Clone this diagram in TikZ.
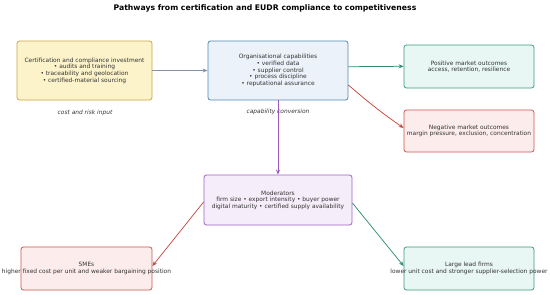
\documentclass[tikz,border=0pt]{standalone}
\usepackage{fontspec}
\setmainfont{DejaVu Sans}
\usetikzlibrary{arrows.meta}
\definecolor{yfill}{HTML}{FDF3CA}\definecolor{ydraw}{HTML}{C9A540}
\definecolor{bfill}{HTML}{EBF2F9}\definecolor{bdraw}{HTML}{4F88B3}
\definecolor{gfill}{HTML}{E8F7F3}\definecolor{gdraw}{HTML}{3A9A80}
\definecolor{rfill}{HTML}{FDECEC}\definecolor{rdraw}{HTML}{C8564E}
\definecolor{pfill}{HTML}{F5EDF9}\definecolor{pdraw}{HTML}{9C60C2}
\definecolor{garrow}{HTML}{8392AA}\definecolor{tarrow}{HTML}{2E8E70}
\definecolor{rarrow}{HTML}{C4463C}\definecolor{parrow}{HTML}{9B59C0}
\definecolor{txt}{HTML}{333333}
\tikzset{
  boxshape/.style={draw=#1, line width=0.8pt, rounded corners=2.5pt, inner sep=0pt},
  boxtext/.style={align=center, font=\fontsize{5.9}{6.6}\selectfont, text=txt, inner sep=0pt},
  conn/.style={line width=0.75pt, -{Stealth[length=5pt,width=4pt]}},
  caption/.style={font=\fontsize{5.9}{6.6}\selectfont\itshape, text=txt}
}
\begin{document}
\begin{tikzpicture}[x=1pt,y=-1pt]
\useasboundingbox (0,0) rectangle (550,295);
\node[font=\fontsize{7.7}{10}\selectfont\bfseries] (title) at (265,8.5) {Pathways from certification and EUDR compliance to competitiveness};

\node[boxshape=ydraw, fill=yfill, minimum width=135pt, minimum height=59pt] (inv) at (84.5,70.5) {};
\node[boxtext] (invt) at (inv.center) {Certification and compliance investment\\• audits and training\\• traceability and geolocation\\• certified-material sourcing};
\node[caption] (invc) at (85,113) {cost and risk input};

\node[boxshape=bdraw, fill=bfill, minimum width=140pt, minimum height=59pt] (cap) at (278,70.5) {};
\node[boxtext] (capt) at (cap.center) {Organisational capabilities\\• verified data\\• supplier control\\• process discipline\\• reputational assurance};

\node[boxshape=gdraw, fill=gfill, minimum width=130pt, minimum height=43pt] (pos) at (469,66.5) {};
\node[boxtext] (post) at (pos.center) {Positive market outcomes\\access, retention, resilience};

\node[boxshape=rdraw, fill=rfill, minimum width=130pt, minimum height=42pt] (neg) at (469,131) {};
\node[boxtext] (negt) at (neg.center) {Negative market outcomes\\margin pressure, exclusion, concentration};

\node[boxshape=pdraw, fill=pfill, minimum width=148pt, minimum height=50pt] (mod) at (278,200) {};
\node[boxtext] (modt) at (mod.center) {Moderators\\firm size • export intensity • buyer power\\digital maturity • certified supply availability};

\node[boxshape=rdraw, fill=rfill, minimum width=131pt, minimum height=43pt] (sme) at (86.5,268.5) {};
\node[boxtext] (smet) at (sme.center) {SMEs\\higher fixed cost per unit and weaker bargaining position};

\node[boxshape=gdraw, fill=gfill, minimum width=130pt, minimum height=43pt] (large) at (469,268.5) {};
\node[boxtext] (larget) at (large.center) {Large lead firms\\lower unit cost and stronger supplier-selection power};

\node[caption] (capc) at (278,112) {capability conversion};

\draw[conn, garrow] (inv.east) -- (cap.west);
\draw[conn, tarrow] ([yshift=3.8pt]cap.east) -- ([yshift=0.2pt]pos.west);
\draw[conn, rarrow] ([yshift=-14.5pt]cap.east) to[bend right=3] ([yshift=3pt]neg.west);
\draw[conn, parrow] (cap.south) -- (mod.north);
\draw[conn, rarrow] ([yshift=-2pt]mod.west) -- ([yshift=2.5pt]sme.east);
\draw[conn, tarrow] ([yshift=-3pt]mod.east) -- ([yshift=2.5pt]large.west);
\end{tikzpicture}
\end{document}
